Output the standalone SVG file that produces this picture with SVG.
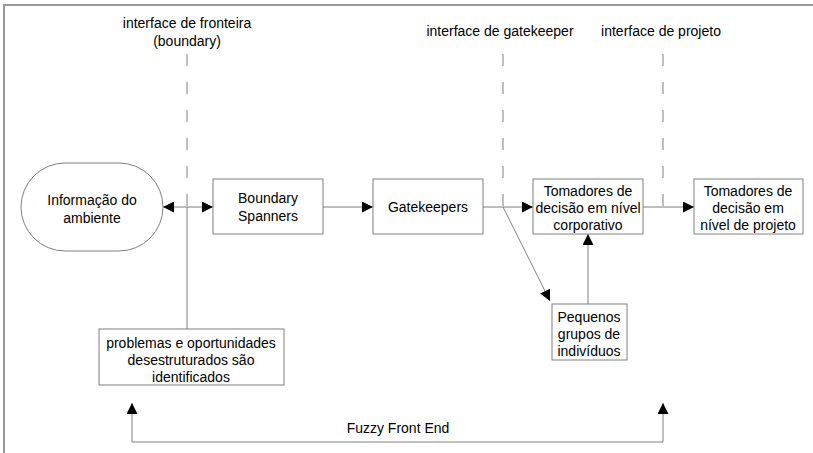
<svg xmlns="http://www.w3.org/2000/svg" width="813" height="453" viewBox="0 0 813 453">
<defs>
<style>
text{font-family:"Liberation Sans",Arial,sans-serif;font-size:14px;fill:#000;text-anchor:middle}
.box{fill:#fff;stroke:#808080;stroke-width:1}
.ln{fill:none;stroke:#808080;stroke-width:1}
.dash{fill:none;stroke:#808080;stroke-width:1;stroke-dasharray:12 16}
.frame{fill:none;stroke:#999;stroke-width:2}
</style>
<marker id="ah" viewBox="0 0 10 10" refX="10" refY="5" markerWidth="11" markerHeight="11" markerUnits="userSpaceOnUse" orient="auto-start-reverse">
<path d="M0,0 L10,5 L0,10 z" fill="#000"/>
</marker>
</defs>
<g id="frame">
<path class="frame" d="M4,453 V5 H813"/>
</g>
<g id="interfaces">
<text x="187" y="28">interface de fronteira</text>
<text x="187" y="46">(boundary)</text>
<text x="500" y="36">interface de gatekeeper</text>
<text x="661" y="36">interface de projeto</text>
<line class="dash" x1="187" y1="54" x2="187" y2="207"/>
<line class="dash" x1="503" y1="54" x2="503" y2="207"/>
<line class="dash" x1="663" y1="54" x2="663" y2="207"/>
</g>
<g id="connectors">
<line class="ln" x1="163" y1="207" x2="213" y2="207" marker-start="url(#ah)" marker-end="url(#ah)"/>
<line class="ln" x1="187" y1="207" x2="187" y2="329"/>
<line class="ln" x1="323" y1="207" x2="373" y2="207" marker-end="url(#ah)"/>
<line class="ln" x1="483" y1="207" x2="533" y2="207" marker-end="url(#ah)"/>
<line class="ln" x1="503" y1="207" x2="550" y2="301" marker-end="url(#ah)"/>
<line class="ln" x1="588" y1="304" x2="588" y2="234" marker-end="url(#ah)"/>
<line class="ln" x1="643" y1="207" x2="694" y2="207" marker-end="url(#ah)"/>
<path class="ln" d="M132,403 V442 H663 V403" marker-start="url(#ah)" marker-end="url(#ah)"/>
<text x="398" y="433">Fuzzy Front End</text>
</g>
<g id="ambiente">
<rect class="box" x="21" y="163" width="142" height="88" rx="44" ry="44"/>
<text x="92" y="205">Informação do</text>
<text x="92" y="223">ambiente</text>
</g>
<g id="boundary-spanners">
<rect class="box" x="213" y="179" width="110" height="55"/>
<text x="268" y="203">Boundary</text>
<text x="268" y="221">Spanners</text>
</g>
<g id="gatekeepers">
<rect class="box" x="373" y="179" width="110" height="55"/>
<text x="428" y="212">Gatekeepers</text>
</g>
<g id="corporativo">
<rect class="box" x="533" y="179" width="110" height="55"/>
<text x="588" y="196">Tomadores de</text>
<text x="588" y="213">decisão em nível</text>
<text x="588" y="230">corporativo</text>
</g>
<g id="projeto">
<rect class="box" x="694" y="179" width="109" height="55"/>
<text x="748" y="196">Tomadores de</text>
<text x="748" y="213">decisão em</text>
<text x="748" y="230">nível de projeto</text>
</g>
<g id="pequenos">
<rect class="box" x="552" y="304" width="75" height="56"/>
<text x="589" y="322">Pequenos</text>
<text x="589" y="339">grupos de</text>
<text x="589" y="356">indivíduos</text>
</g>
<g id="problemas">
<rect class="box" x="99" y="329" width="185" height="56"/>
<text x="191" y="348">problemas e oportunidades</text>
<text x="191" y="365">desestruturados são</text>
<text x="191" y="382">identificados</text>
</g>
</svg>
